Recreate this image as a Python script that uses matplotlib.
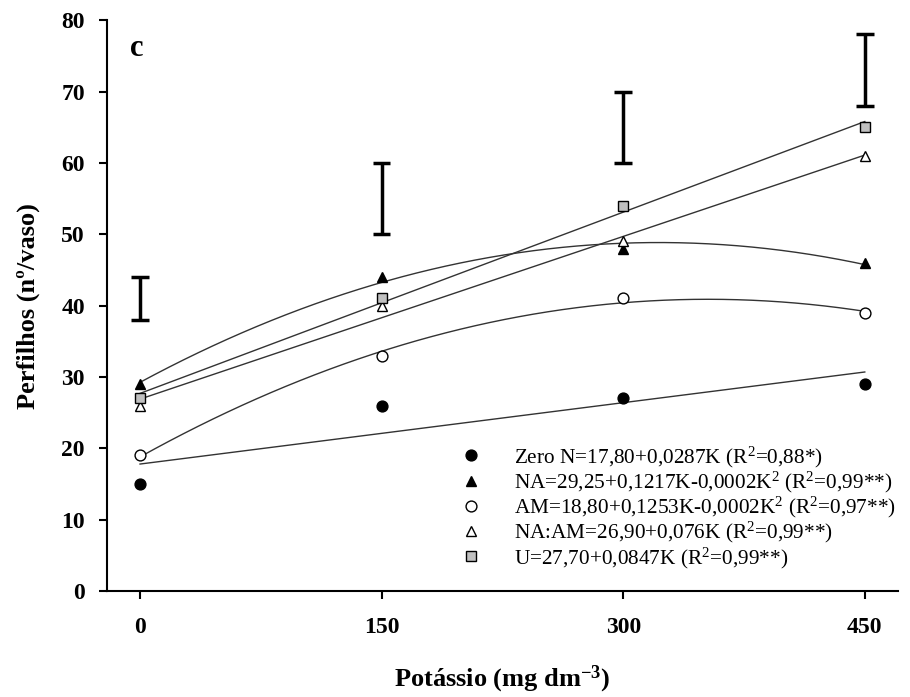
import numpy as np
import matplotlib
matplotlib.use("Agg")
import matplotlib.pyplot as plt

plt.rcParams['font.family'] = ['Liberation Serif', 'DejaVu Serif']
plt.rcParams['mathtext.fontset'] = 'custom'
plt.rcParams['mathtext.rm'] = 'Liberation Serif'
plt.rcParams['mathtext.it'] = 'Liberation Serif:italic'
plt.rcParams['mathtext.bf'] = 'Liberation Serif:bold'

# Data
K = [0, 150, 300, 450]
zero_n = [15, 26, 27, 29]
na = [29, 44, 48, 46]
am = [19, 33, 41, 39]
na_am = [26, 40, 49, 61]
u = [27, 41, 54, 65]
lsd_low = [38, 50, 60, 68]
lsd_high = [44, 60, 70, 78]

labels = [
    "Zero N=17,80+0,0287K (R$^2$=0,88*)",
    "NA=29,25+0,1217K-0,0002K$^2$ (R$^2$=0,99**)",
    "AM=18,80+0,1253K-0,0002K$^2$ (R$^2$=0,97**)",
    "NA:AM=26,90+0,076K (R$^2$=0,99**)",
    "U=27,70+0,0847K (R$^2$=0,99**)",
]
series = [zero_n, na, am, na_am, u]
degrees = [1, 2, 2, 1, 1]
styles = [
    dict(marker='o', mfc='black', mec='black'),
    dict(marker='^', mfc='black', mec='black'),
    dict(marker='o', mfc='white', mec='black'),
    dict(marker='^', mfc='white', mec='black'),
    dict(marker='s', mfc='#c0c0c0', mec='black'),
]

fig = plt.figure(figsize=(9.10, 6.97), dpi=100)
ax = fig.add_axes([0.1176, 0.152, 0.869, 0.819])

xs = np.linspace(0, 450, 200)
for y, d in zip(series, degrees):
    coef = np.polyfit(K, y, d)
    ax.plot(xs, np.polyval(coef, xs), color='#333333', lw=1.0, zorder=2)

handles = []
for y, st, lab in zip(series, styles, labels):
    h, = ax.plot(K, y, linestyle='none', markersize=7.8, markeredgewidth=1.0,
                 label=lab, zorder=3, **st)
    handles.append(h)

# LSD bars
for x, lo, hi in zip(K, lsd_low, lsd_high):
    ax.plot([x, x], [lo, hi], color='black', lw=2.5, solid_capstyle='butt')
    for yy in (lo, hi):
        ax.plot([x - 5.5, x + 5.5], [yy, yy], color='black', lw=2.5, solid_capstyle='butt')

ax.set_xlim(-20.5, 470.5)
ax.set_ylim(0, 80)
ax.set_xticks(K)
ax.set_yticks(range(0, 81, 10))
for sp in ('top', 'right'):
    ax.spines[sp].set_visible(False)
for sp in ('left', 'bottom'):
    ax.spines[sp].set_linewidth(1.5)
ax.tick_params(direction='out', length=6, width=1.5, labelsize=17)
ax.tick_params(axis='y', pad=10)
ax.tick_params(axis='x', pad=13)
for t in ax.get_xticklabels() + ax.get_yticklabels():
    t.set_fontweight('bold')

ax.set_xlabel("Potássio (mg dm$^{\\mathbf{-3}}$)", fontsize=19, fontweight='bold', labelpad=18)
ax.set_ylabel("Perfilhos (nº/vaso)", fontsize=19, fontweight='bold', labelpad=15)

ax.text(-2, 76, "c", fontsize=22, fontweight='bold', ha='center', va='center')

leg = ax.legend(handles=handles, loc='upper left', bbox_to_anchor=(0.447, 0.257),
                frameon=False, fontsize=15.3, handlelength=1.0, handletextpad=1.5,
                labelspacing=0.0, borderaxespad=0, borderpad=0)

fig.savefig("out.png", dpi=100)
